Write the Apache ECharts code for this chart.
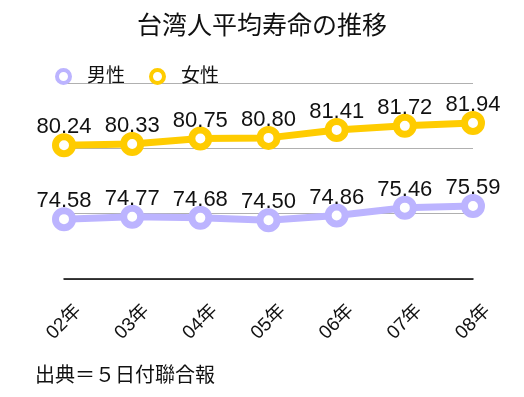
<!DOCTYPE html>
<html>
<head>
<meta charset="utf-8">
<script src="https://cdn.jsdelivr.net/npm/echarts@6/dist/echarts.min.js"></script>
<style>
  html, body { margin: 0; padding: 0; background: #fff; }
  #chart { width: 524px; height: 397px; }
</style>
</head>
<body>
<div id="chart"></div>
<script>
// data
const years = ['02年', '03年', '04年', '05年', '06年', '07年', '08年'];
const male = [74.58, 74.77, 74.68, 74.50, 74.86, 75.46, 75.59];
const female = [80.24, 80.33, 80.75, 80.80, 81.41, 81.72, 81.94];

const FONT = '"Liberation Sans", "Noto Sans CJK JP", sans-serif';
const PURPLE = '#bcb4ff';
const YELLOW = '#ffcc00';

const myChart = echarts.init(document.getElementById('chart'));

function lineSeries(name, data, color) {
    return {
        name: name,
        type: 'line',
        data: data,
        symbol: 'circle',
        symbolSize: 17,
        lineStyle: { color: color, width: 7 },
        itemStyle: { color: '#fff', borderColor: color, borderWidth: 7 },
        label: {
            show: true,
            position: 'top',
            distance: 0,
            offset: [0, 5],
            color: '#111',
            fontSize: 22,
            fontFamily: FONT,
            formatter: p => p.value.toFixed(2)
        },
        emphasis: { disabled: true }
    };
}

myChart.setOption({
    animation: false,
    title: {
        text: '台湾人平均寿命の推移',
        left: 'center',
        top: 10,
        textStyle: { fontSize: 25, fontWeight: 'normal', color: '#111', fontFamily: FONT }
    },
    legend: {
        left: 50,
        top: 62,
        itemGap: 24,
        itemWidth: 13,
        itemHeight: 13,
        textStyle: { fontSize: 19, color: '#111', fontFamily: FONT, padding: [0, 0, 0, 12] },
        data: [
            { name: '男性', icon: 'circle', itemStyle: { color: '#fff', borderColor: PURPLE, borderWidth: 4 } },
            { name: '女性', icon: 'circle', itemStyle: { color: '#fff', borderColor: YELLOW, borderWidth: 4 } }
        ]
    },
    grid: { left: 64, right: 51, top: 83, bottom: 118 },
    xAxis: {
        type: 'category',
        data: years,
        boundaryGap: false,
        axisLine: { lineStyle: { color: '#000', width: 1.5 } },
        axisTick: { show: false },
        axisLabel: {
            rotate: 45,
            align: 'center',
            verticalAlign: 'middle',
            margin: 43,
            fontSize: 19,
            color: '#111',
            fontFamily: FONT
        }
    },
    yAxis: {
        type: 'value',
        min: 70,
        max: 85,
        interval: 5,
        axisLine: { show: false },
        axisTick: { show: false },
        axisLabel: { show: false },
        splitLine: { lineStyle: { color: '#b0b0b0', width: 1 } }
    },
    graphic: [{
        type: 'text',
        left: 35,
        top: 366,
        style: { text: '出典＝５日付聯合報', fill: '#111', font: '20px ' + FONT }
    }],
    series: [
        lineSeries('男性', male, PURPLE),
        lineSeries('女性', female, YELLOW)
    ]
});
</script>
</body>
</html>
